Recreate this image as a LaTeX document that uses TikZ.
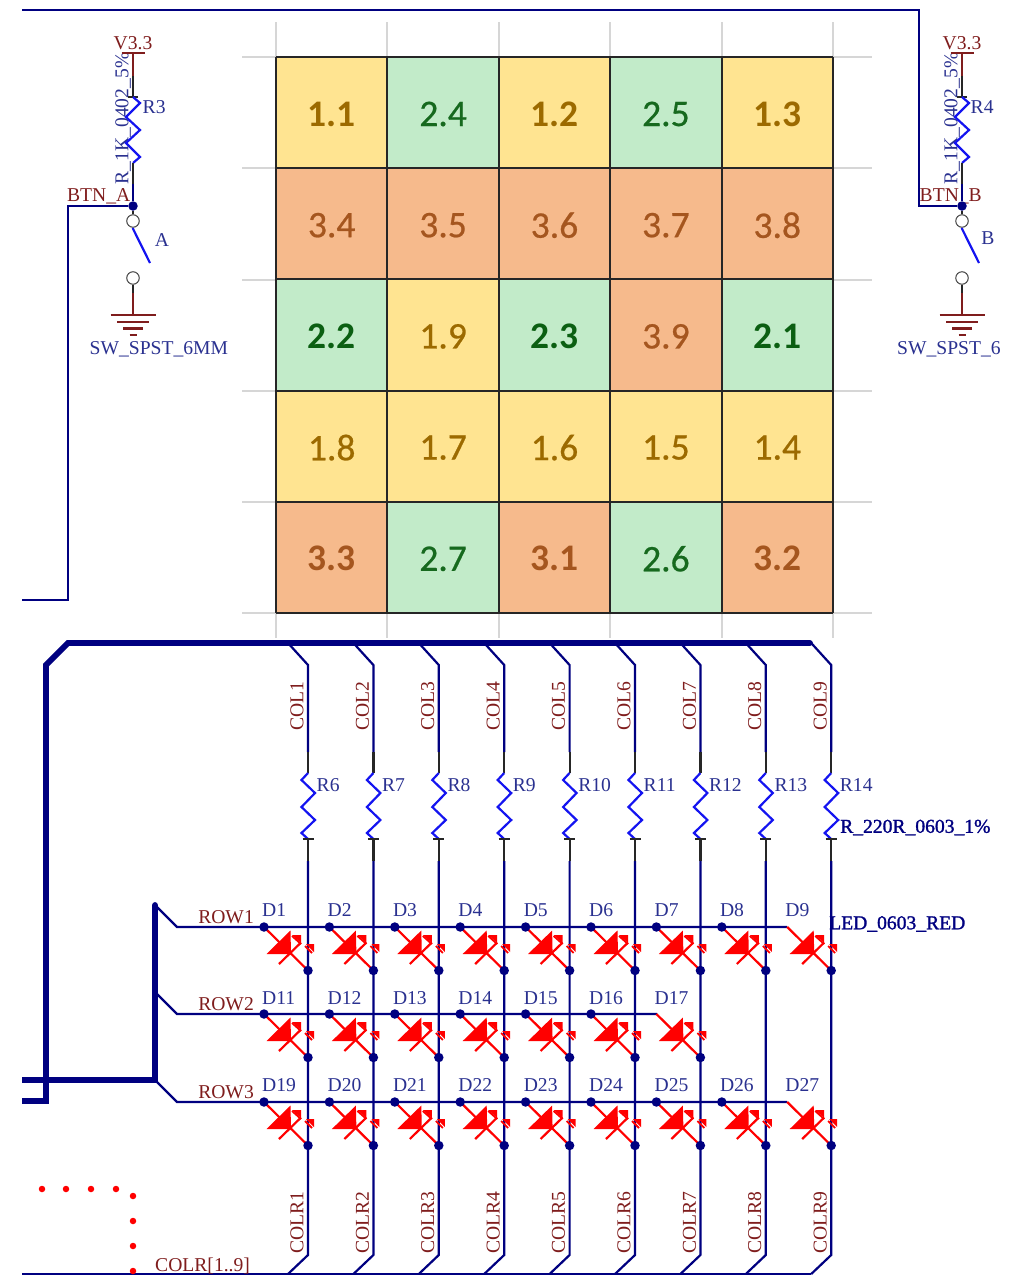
\documentclass[tikz,border=0pt]{standalone}
\usepackage{fontspec}
\setmainfont{Liberation Serif}
\newfontfamily\gridfont[FakeBold=0.6]{Carlito}
\newfontfamily\gridbold{Carlito Bold}
\newfontfamily\overstruck[FakeBold=1.4]{Liberation Serif}
\definecolor{wire}{HTML}{000080}
\definecolor{zig}{HTML}{1414F0}
\definecolor{netred}{HTML}{7F1D1D}
\definecolor{desblue}{HTML}{2A3190}
\definecolor{gridline}{HTML}{D6D6D6}
\definecolor{yelF}{HTML}{FFE491}\definecolor{yelT}{HTML}{9C6A00}
\definecolor{greF}{HTML}{C2EBC9}\definecolor{greT}{HTML}{16691E}
\definecolor{oraF}{HTML}{F6BA8C}\definecolor{oraT}{HTML}{A5561F}
\definecolor{greB}{HTML}{0B5F12}
\tikzset{
  x=1pt,y=-1pt,
  wireline/.style={draw=wire,line width=2.2pt},
  busline/.style={draw=wire,line width=5.8pt},
  blackpin/.style={draw=black!85,line width=2.2pt},
  redpin/.style={draw=netred,line width=2.2pt},
  zigline/.style={draw=zig,line width=2.2pt},
  junction/.style={circle,fill=wire,inner sep=0pt,minimum size=9.5pt},
  swpin/.style={circle,draw=black!75,fill=white,line width=1pt,inner sep=0pt,minimum size=12.5pt},
  net/.style={text=netred,font=\fontsize{19.6}{19.6}\selectfont,inner sep=0pt},
  des/.style={text=desblue,font=\fontsize{19.6}{19.6}\selectfont,inner sep=0pt},
  strong/.style={text=wire,font=\fontsize{19.6}{19.6}\overstruck,inner sep=0pt},
  ledred/.style={draw=red,line width=2.2pt},
  celltext/.style={font=\fontsize{37.5}{37.5}\gridfont,inner sep=0pt},
  cellbold/.style={font=\fontsize{37.5}{37.5}\gridbold,inner sep=0pt},
  reddot/.style={circle,fill=red,inner sep=0pt,minimum size=6.5pt},
}
\newcommand{\pullup}[2]{% x, name
  \coordinate (#2t) at (#1,53);
  \coordinate (#2a) at (#1,76);
  \coordinate (#2b) at (#1,97);
  \coordinate (#2c) at (#1,163);
  \coordinate (#2d) at (#1,184);
  \node[junction] (#2j) at (#1,206) {};
  \node[swpin] (#2p) at (#1,221) {};
  \node[swpin] (#2q) at (#1,278) {};
  \coordinate (#2e) at (#1,293);
  \coordinate (#2g) at (#1,315);
  \coordinate (#2s) at (#1,263);
  \draw[redpin] ($(#2t)+(-11.5,0)$) -- ($(#2t)+(11.5,0)$);
  \draw[redpin] (#2t) -- (#2a);
  \draw[blackpin] (#2a) -- (#2b);
  \draw[black!85,line width=1.6pt] ($(#2b)+(-5,0)$) -- ($(#2b)+(5,0)$);
  \draw[zigline,line join=miter] (#2b) -- ++(7,6) -- ++(-14,14) -- ++(14,13) -- ++(-14,13) -- ++(14,14) -- (#2c);
  \draw[blackpin] (#2c) -- (#2d);
  \draw[wireline] (#2d) -- (#2j);
  \draw[blackpin] (#2j) -- (#2p);
  \draw[zigline] (#2p.south) -- ++(0,1) -- ($(#2s)+(17,0)$);
  \draw[blackpin] (#2q) -- (#2e);
  \draw[redpin] (#2e) -- (#2g);
  \draw[redpin] ($(#2g)+(-22.5,0)$) -- ($(#2g)+(22.5,0)$);
  \draw[redpin] ($(#2g)+(-16,7)$) -- ($(#2g)+(16,7)$);
  \draw[redpin] ($(#2g)+(-10,13.5)$) -- ($(#2g)+(10,13.5)$);
  \draw[redpin] ($(#2g)+(-3.5,20)$) -- ($(#2g)+(3.5,20)$);
}
\newcommand{\ledsym}[3]{% x y name : start of the diode on the row wire
  \coordinate (#3s) at (#1,#2);
  \coordinate (#3e) at ($(#1,#2)+(44,43.5)$);
  \draw[ledred] (#3s) -- (#3e);
  \fill[red] ($(#3s)+(2.5,27)$) -- ($(#3s)+(26.5,3.5)$) -- ($(#3s)+(27,27)$) -- cycle;
  \draw[ledred] ($(#3s)+(15,37)$) -- ($(#3s)+(37,15.5)$);
  \draw[red,line width=1.8pt] ($(#3s)+(28,9)$) -- ($(#3s)+(37,17)$);
  \fill[red] ($(#3s)+(28,8)$) -- ($(#3s)+(37,8)$) -- ($(#3s)+(37,16)$) -- cycle;
  \draw[red,line width=1.8pt] ($(#3s)+(41,19)$) -- ($(#3s)+(48,26)$);
  \fill[red] ($(#3s)+(42,17)$) -- ($(#3s)+(50,17)$) -- ($(#3s)+(50,25)$) -- cycle;
}
\usetikzlibrary{calc}
\begin{document}
\begin{tikzpicture}
\useasboundingbox (0,0) rectangle (1010,1275);
% --- grid background lines
\foreach \g in {276,387,499,610,722,833}
  \draw[gridline,line width=2pt] (\g,22) -- (\g,638);
\foreach \g in {57,168,280,391,502,613}
  \draw[gridline,line width=2pt] (242,\g) -- (872,\g);
% --- cell fills and texts
\foreach \lab/\sty/\fil/\txt [count=\n from 0] in {
  1.1/cellbold/yelF/yelT,2.4/celltext/greF/greT,1.2/cellbold/yelF/yelT,2.5/celltext/greF/greT,1.3/cellbold/yelF/yelT,
  3.4/celltext/oraF/oraT,3.5/celltext/oraF/oraT,3.6/celltext/oraF/oraT,3.7/celltext/oraF/oraT,3.8/celltext/oraF/oraT,
  2.2/cellbold/greF/greB,1.9/celltext/yelF/yelT,2.3/cellbold/greF/greB,3.9/celltext/oraF/oraT,2.1/cellbold/greF/greB,
  1.8/celltext/yelF/yelT,1.7/celltext/yelF/yelT,1.6/celltext/yelF/yelT,1.5/celltext/yelF/yelT,1.4/celltext/yelF/yelT,
  3.3/cellbold/oraF/oraT,2.7/celltext/greF/greT,3.1/cellbold/oraF/oraT,2.6/celltext/greF/greT,3.2/cellbold/oraF/oraT}{
  \pgfmathtruncatemacro{\cc}{mod(\n,5)}
  \pgfmathtruncatemacro{\rr}{div(\n,5)}
  \pgfmathsetmacro{\xa}{276+111.4*\cc}
  \pgfmathsetmacro{\ya}{57+111.2*\rr}
  \fill[\fil] (\xa,\ya) rectangle ++(111.4,111.2);
  \node[\sty,text=\txt] (cell\n) at (\xa+55.7,\ya+57) {\lab};
}
% --- cell borders
\foreach \g in {276,387.4,498.8,610.2,721.6,833}
  \draw[black!85,line width=2pt] (\g,57) -- (\g,613);
\foreach \g in {57,168.2,279.4,390.6,501.8,613}
  \draw[black!85,line width=2pt] (276,\g) -- (833,\g);
% --- switch texts (under the wires)
\node[net] (v33a) at (133,43) {V3.3};
\node[net] (v33b) at (962,43) {V3.3};
\node[des,rotate=90,anchor=west] (rvala) at (123,184.5) {R\_1K\_0402\_5\%};
\node[des,rotate=90,anchor=west] (rvalb) at (952,184.5) {R\_1K\_0402\_5\%};
\node[des,anchor=west] (r3) at (142.5,107) {R3};
\node[des,anchor=west] (r4) at (970.5,107) {R4};
\node[net,anchor=east] (btna) at (130.5,196) {BTN\_A};
\node[net,anchor=west] (btnb) at (919.5,196) {BTN\_B};
\node[des] (labA) at (162,240) {A};
\node[des] (labB) at (988,238) {B};
\node[des,anchor=west] (swa) at (89.5,349.5) {SW\_SPST\_6MM};
\node[des,anchor=west] (swb) at (897,349.5) {SW\_SPST\_6};
% --- switches
\pullup{133}{a}
\pullup{962}{b}
\coordinate (wa1) at (68,206);
\coordinate (wa2) at (68,600);
\coordinate (wa3) at (22,600);
\draw[wireline] (aj) -- (wa1) -- (wa2) -- (wa3);
\coordinate (wb1) at (919,206);
\coordinate (wb2) at (919,10);
\coordinate (wb3) at (22,10);
\draw[wireline] (bj) -- (wb1) -- (wb2) -- (wb3);
% --- buses
\coordinate (busA0) at (22,1101);
\coordinate (busA1) at (46,1101);
\coordinate (busA2) at (46,665);
\coordinate (busA3) at (68,643);
\coordinate (busA4) at (810,643);
\draw[busline,line join=miter] (busA0) -- (busA1) -- (busA2) -- (busA3) -- (busA4);
\fill[wire] (busA4) circle (2.9);
\coordinate (busB0) at (22,1080);
\coordinate (busB1) at (155,1080);
\coordinate (busB2) at (155,905);
\draw[busline,line join=miter] (busB0) -- (busB1) -- (busB2);
\fill[wire] (busB2) circle (2.9);
\coordinate (busC0) at (22,1274);
\coordinate (busC1) at (811,1274);
\draw[wireline] (busC0) -- (busC1);
% --- rows
\foreach \ry/\rt/\ya/\rn in {927/905/917/1,1014/992/1004/2,1102/1080/1092/3}{
  \coordinate (rowa\rn) at (155,\rt);
  \coordinate (rowb\rn) at (177,\ry);
  \node[net,anchor=east] (rowl\rn) at (254,\ya) {ROW\rn};
}
\coordinate (rowe1) at (787,927);
\coordinate (rowe2) at (657,1014);
\coordinate (rowe3) at (787,1102);
\foreach \rn in {1,2,3}
  \draw[wireline] (rowa\rn) -- (rowb\rn) -- (rowe\rn);
% --- columns
\foreach \i [count=\n from 1, evaluate=\i as \cx using 308+65.4*\i] in {0,...,8}{
  \pgfmathtruncatemacro{\rid}{\n+5}
  \coordinate (c\n a) at (\cx-20,643);
  \coordinate (c\n b) at (\cx,665);
  \coordinate (c\n c) at (\cx,752);
  \coordinate (c\n d) at (\cx,773);
  \coordinate (c\n e) at (\cx,839);
  \coordinate (c\n f) at (\cx,861);
  \coordinate (c\n g) at (\cx,1255);
  \coordinate (c\n h) at (\cx-20,1274);
  \draw[wireline,line join=miter] (c\n a) -- (c\n b) -- (c\n c);
  \draw[blackpin] (c\n c) -- (c\n d);
  \draw[zigline] (c\n d) -- ++(-6.5,7) -- ++(13.5,13) -- ++(-13.5,14) -- ++(13.5,13) -- ++(-13.5,13) -- (c\n e);
  \draw[black!85,line width=1.6pt] ($(c\n e)+(-5.5,0)$) -- ($(c\n e)+(5.5,0)$);
  \draw[blackpin] (c\n e) -- (c\n f);
  \draw[wireline,line join=miter] (c\n f) -- (c\n g) -- (c\n h);
  \node[net,rotate=90,anchor=west] (collab\n) at (\cx-11,730.5) {COL\n};
  \node[net,rotate=90,anchor=west] (colrlab\n) at (\cx-11,1254) {COLR\n};
  \node[des,anchor=west] (rlab\n) at (\cx+8.5,785) {R\rid};
}
% --- LEDs
\foreach \rowy/\first/\cnt/\dly in {927/1/9/910,1014/11/7/998,1102/19/9/1085}{
  \foreach \i in {1,...,\cnt}{
    \pgfmathsetmacro{\sx}{264+65.4*(\i-1)}
    \pgfmathtruncatemacro{\dn}{\first+\i-1}
    \ledsym{\sx}{\rowy}{led\dn}
    \node[des,anchor=west] (dlab\dn) at (\sx-2,\dly) {D\dn};
    \node[junction] (kj\dn) at (led\dn e) {};
    \ifnum\i<\cnt \node[junction] (aj\dn) at (led\dn s) {}; \fi
  }
}
% --- component values
\node[strong,anchor=west] (rval) at (840,827.5) {R\_220R\_0603\_1\%};
\node[strong,anchor=west] (ledval) at (829,924) {LED\_0603\_RED};
\node[net,anchor=west] (colrbus) at (155,1266) {COLR[1..9]};
% --- red dots
\foreach \px/\py [count=\k] in {42/1189,66/1189,91/1189,116/1189,133/1196,133/1221,133/1246,133/1271}
  \node[reddot] (dot\k) at (\px,\py) {};
\end{tikzpicture}
\end{document}
